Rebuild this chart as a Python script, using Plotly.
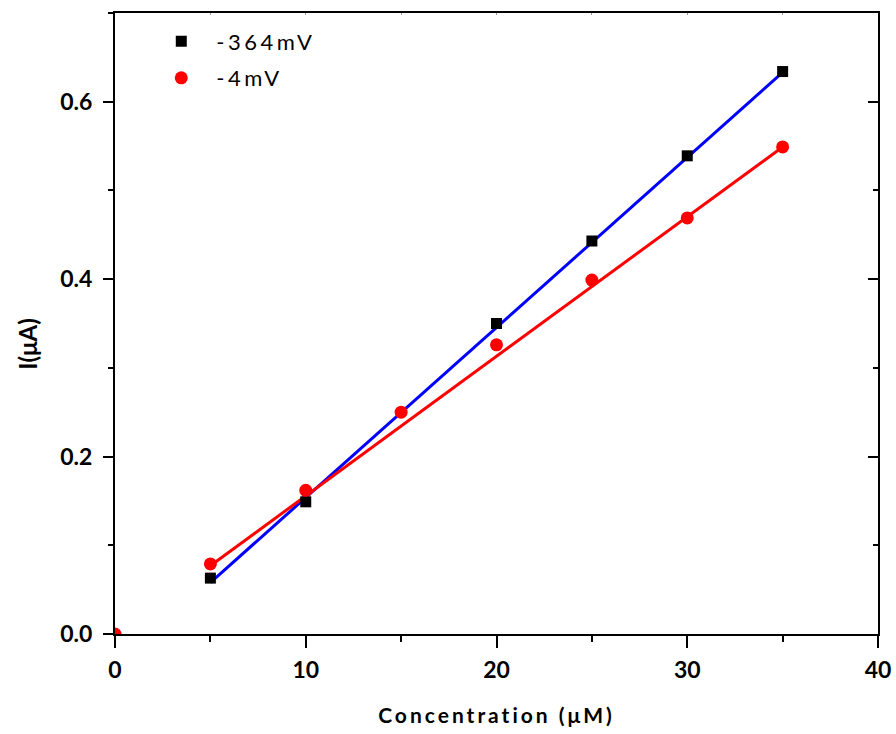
import plotly.graph_objects as go

# Data
conc_364 = [5, 10, 20, 25, 30, 35]
curr_364 = [0.063, 0.149, 0.350, 0.443, 0.539, 0.634]
conc_4 = [0, 5, 10, 15, 20, 25, 30, 35]
curr_4 = [0.0, 0.079, 0.162, 0.250, 0.326, 0.399, 0.469, 0.549]

fit_x = [5, 35]
fit_364 = [0.058, 0.633]
fit_4 = [0.077, 0.549]

x_ticks = [0, 10, 20, 30, 40]
y_ticks = [0.0, 0.2, 0.4, 0.6]

FONT = "Lato"


def spaced(t, px):
    return '<span style="letter-spacing:%spx">%s</span>' % (px, t)


fig = go.Figure()
fig.add_trace(go.Scatter(x=fit_x, y=fit_364, mode="lines",
                         line=dict(color="#0000ff", width=3), showlegend=False))
fig.add_trace(go.Scatter(x=fit_x, y=fit_4, mode="lines",
                         line=dict(color="#ff0000", width=3), showlegend=False))
fig.add_trace(go.Scatter(x=conc_364, y=curr_364, mode="markers", name=spaced("-364mV", 3.5),
                         legendgroup="a",
                         marker=dict(symbol="square", size=11, color="black")))
fig.add_trace(go.Scatter(x=conc_4, y=curr_4, mode="markers", name=spaced("-4mV", 3.5),
                         legendgroup="b",
                         marker=dict(symbol="circle", size=13, color="#ff0000")))

# dummy trace for mirrored axes
fig.add_trace(go.Scatter(x=[None], y=[None], xaxis="x2", yaxis="y2", showlegend=False))

tickfont = dict(family=FONT, size=23, color="black", weight="bold")

fig.update_layout(
    width=896, height=734,
    margin=dict(l=115, r=18, t=13, b=100),
    plot_bgcolor="white", paper_bgcolor="white",
    xaxis=dict(range=[0, 40], tickvals=x_ticks, ticktext=[str(v) for v in x_ticks],
               ticks="outside", ticklen=12, tickwidth=2, tickcolor="black", automargin=False,
               showline=True, linewidth=2, linecolor="black", showgrid=False, zeroline=False,
               minor=dict(dtick=5, tick0=0, ticks="outside", ticklen=6, tickwidth=2, tickcolor="black"),
               tickfont=tickfont, ticklabelstandoff=2,
               title=dict(text=spaced("Concentration (μM)", 3),
                          font=dict(family=FONT, size=21, color="black", weight="bold"), standoff=27)),
    yaxis=dict(range=[0, 0.70], tickvals=y_ticks, ticktext=["%.1f" % v for v in y_ticks],
               ticks="outside", ticklen=10, tickwidth=2, tickcolor="black", automargin=False,
               showline=True, linewidth=2, linecolor="black", showgrid=False, zeroline=False,
               minor=dict(dtick=0.1, tick0=0, ticks="outside", ticklen=5, tickwidth=2, tickcolor="black"),
               tickfont=tickfont, ticklabelstandoff=6),
    xaxis2=dict(range=[0, 40], overlaying="x", side="top", tickvals=x_ticks, automargin=False,
                ticks="inside", ticklen=2, tickwidth=1, tickcolor="#999999",
                showticklabels=False, showline=True, linewidth=2, linecolor="black",
                showgrid=False, zeroline=False,
                minor=dict(dtick=5, tick0=0, ticks="inside", ticklen=2, tickwidth=1, tickcolor="#999999")),
    yaxis2=dict(range=[0, 0.70], overlaying="y", side="right", tickvals=y_ticks, automargin=False,
                ticks="inside", ticklen=10, tickwidth=2, tickcolor="black",
                showticklabels=False, showline=True, linewidth=2, linecolor="black",
                showgrid=False, zeroline=False,
                minor=dict(dtick=0.1, tick0=0, ticks="inside", ticklen=5, tickwidth=2, tickcolor="black")),
    legend=dict(x=0.041, y=0.988, xanchor="left", yanchor="top", bgcolor="rgba(0,0,0,0)",
                font=dict(family=FONT, size=22, color="black"), itemwidth=60,
                traceorder="grouped", tracegroupgap=5),
    annotations=[dict(text="I(μA)", textangle=-90, showarrow=False,
                      xref="paper", yref="paper", x=-0.114, y=0.466,
                      xanchor="center", yanchor="middle",
                      font=dict(family=FONT, size=24, color="black", weight="bold"))],
)

fig.write_html("out.html")
